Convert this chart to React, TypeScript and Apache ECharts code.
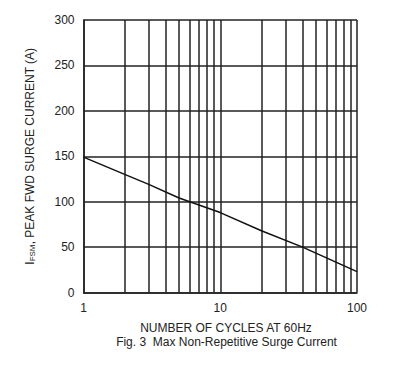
import React, { useEffect, useRef } from "react";
import * as echarts from "echarts";

const cycles = [1, 2, 3, 5, 10, 20, 40, 100];
const surgeCurrent = [149, 130, 119, 104, 88, 68, 50, 23];
const minorGridX = [2, 3, 4, 5, 6, 7, 8, 9, 20, 30, 40, 50, 60, 70, 80, 90];
const yTicks = [0, 50, 100, 150, 200, 250, 300];
const xAxisTitle = "NUMBER OF CYCLES AT 60Hz";
const caption = "Fig. 3  Max Non-Repetitive Surge Current";

export default function App() {
  const ref = useRef<HTMLDivElement>(null);
  useEffect(() => {
    document.body.style.margin = "0";
    const chart = echarts.init(ref.current!, null, { renderer: "svg" });
    const font = "Liberation Sans, Arial, sans-serif";
    const gridColor = "#222";
    chart.setOption({
      animation: false,
      backgroundColor: "#fff",
      grid: { left: 83.5, right: 57, top: 20, bottom: 73.5, containLabel: false },
      xAxis: {
        type: "log",
        logBase: 10,
        min: 1,
        max: 100,
        axisLine: { show: true, lineStyle: { color: gridColor, width: 1.5 } },
        axisTick: { show: false },
        axisLabel: { color: "#222", fontSize: 12, fontFamily: font, margin: 9 },
        splitLine: { show: true, lineStyle: { color: gridColor, width: 1.5 } },
      },
      yAxis: {
        type: "value",
        min: yTicks[0],
        max: yTicks[yTicks.length - 1],
        interval: 50,
        name: "{a|I}{s|FSM}{a|, PEAK FWD SURGE CURRENT (A)}",
        nameLocation: "middle",
        nameRotate: 90,
        nameGap: 47,
        nameTextStyle: {
          rich: {
            a: { fontSize: 12, fontFamily: font, color: "#222" },
            s: { fontSize: 8, fontFamily: font, color: "#222", verticalAlign: "bottom", padding: [5, 0, 0, 0] },
          },
        },
        axisLine: { show: true, lineStyle: { color: gridColor, width: 1.5 } },
        axisTick: { show: false },
        axisLabel: { color: "#222", fontSize: 12, fontFamily: font, margin: 9 },
        splitLine: { show: true, lineStyle: { color: gridColor, width: 1.5 } },
      },
      graphic: [
        {
          type: "text",
          x: 226,
          y: 322,
          style: { text: xAxisTitle, fill: "#222", font: `12px ${font}`, textAlign: "center" },
        },
        {
          type: "text",
          x: 226.5,
          y: 336,
          style: { text: caption, fill: "#222", font: `12px ${font}`, textAlign: "center" },
        },
      ],
      series: [
        {
          type: "line",
          data: cycles.map((c, i) => [c, surgeCurrent[i]]),
          showSymbol: false,
          smooth: false,
          lineStyle: { color: "#111", width: 1.5 },
          z: 5,
          markLine: {
            silent: true,
            symbol: "none",
            label: { show: false },
            lineStyle: { color: gridColor, width: 1.5, type: "solid" },
            data: minorGridX.map((v) => ({ xAxis: v })),
            z: 2,
          },
        },
      ],
    });
    return () => chart.dispose();
  }, []);
  return <div ref={ref} style={{ width: 414, height: 366 }} />;
}
